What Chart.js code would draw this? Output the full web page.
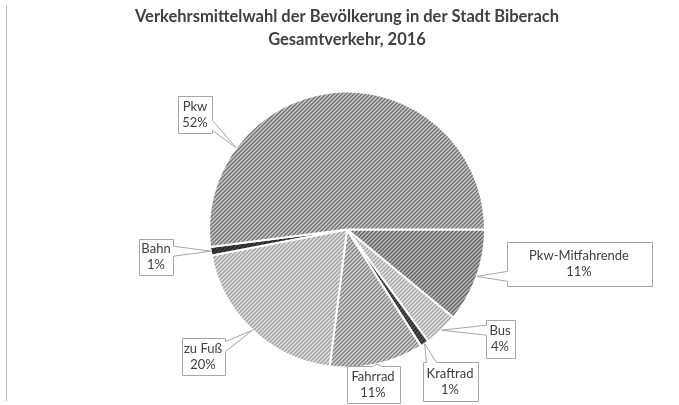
<!DOCTYPE html>
<html>
<head>
<meta charset="utf-8">
<script src="https://cdn.jsdelivr.net/npm/chart.js@4.4.1/dist/chart.umd.min.js"></script>
<style>
    html, body { margin: 0; padding: 0; background: #fff; }
    #frame { position: relative; width: 679px; height: 405px; }
    #frame::before { content: ''; position: absolute; left: 6px; top: 5px; width: 1px; height: 396px; background: #bdbdbd; }
    canvas { display: block; }
</style>
</head>
<body>
<div id="frame"><canvas id="modalSplitChart" width="679" height="405"></canvas></div>
<script>
const titleLines = ['Verkehrsmittelwahl der Bevölkerung in der Stadt Biberach', 'Gesamtverkehr, 2016'];
const modeLabels = ['Pkw-Mitfahrende', 'Bus', 'Kraftrad', 'Fahrrad', 'zu Fuß', 'Bahn', 'Pkw'];
const modeShares = [11, 4, 1, 11, 20, 1, 52];

// hatch colours per slice: [background, stripe]
const hatchColors = [
    ['#b8b8b8', '#626262'],
    ['#e4e4e4', '#a4a4a4'],
    ['#5a5a5a', '#262626'],
    ['#d4d4d4', '#808080'],
    ['#e0e0e0', '#a0a0a0'],
    ['#4a4a4a', '#1e1e1e'],
    ['#c8c8c8', '#707070']
];

// callout boxes: offset of box centre from pie centre, size, where the pointer hits the slice edge
const calloutLayout = [
    { dx: 232, dy: 34, w: 145, h: 44, frac: 0.5 },
    { dx: 153, dy: 109, w: 29, h: 38, frac: 0.5 },
    { dx: 103, dy: 152, w: 55, h: 39, frac: 0.5 },
    { dx: 26, dy: 155, w: 53, h: 37, frac: 0.5 },
    { dx: -144, dy: 127, w: 43, h: 37, frac: 0.5 },
    { dx: -191, dy: 27, w: 34, h: 36, frac: 0.5 },
    { dx: -152, dy: -115, w: 34, h: 37, frac: 0.233 }
];

const canvas = document.getElementById('modalSplitChart');
const ctx = canvas.getContext('2d');

function makeHatch(bg, fg) {
    const size = 4;
    const tile = document.createElement('canvas');
    tile.width = size;
    tile.height = size;
    const t = tile.getContext('2d');
    t.fillStyle = bg;
    t.fillRect(0, 0, size, size);
    t.strokeStyle = fg;
    t.lineWidth = 1.3;
    t.beginPath();
    t.moveTo(-1, size + 1); t.lineTo(size + 1, -1);
    t.moveTo(-1, 1); t.lineTo(1, -1);
    t.moveTo(size - 1, size + 1); t.lineTo(size + 1, size - 1);
    t.stroke();
    return ctx.createPattern(tile, 'repeat');
}

const slicePatterns = hatchColors.map(c => makeHatch(c[0], c[1]));

function calloutPath(c, left, top, w, h, ax, ay) {
    const right = left + w, bottom = top + h;
    const half = 5, pad = 8;
    const ox = ax < left ? left - ax : (ax > right ? ax - right : 0);
    const oy = ay < top ? top - ay : (ay > bottom ? ay - bottom : 0);
    let side;
    if (ox >= oy) {
        side = ax < left ? 'left' : 'right';
    } else {
        side = ay < top ? 'top' : 'bottom';
    }
    const clamp = (v, a, b) => Math.max(a, Math.min(b, v));
    const bx = clamp(ax, left + pad, right - pad);
    const by = clamp(ay, top + pad, bottom - pad);
    c.beginPath();
    c.moveTo(left, top);
    if (side === 'top') {
        c.lineTo(bx - half, top); c.lineTo(ax, ay); c.lineTo(bx + half, top);
    }
    c.lineTo(right, top);
    if (side === 'right') {
        c.lineTo(right, by - half); c.lineTo(ax, ay); c.lineTo(right, by + half);
    }
    c.lineTo(right, bottom);
    if (side === 'bottom') {
        c.lineTo(bx + half, bottom); c.lineTo(ax, ay); c.lineTo(bx - half, bottom);
    }
    c.lineTo(left, bottom);
    if (side === 'left') {
        c.lineTo(left, by + half); c.lineTo(ax, ay); c.lineTo(left, by - half);
    }
    c.closePath();
}

const calloutPlugin = {
    id: 'callouts',
    afterDatasetsDraw(chart) {
        const c = chart.ctx;
        const meta = chart.getDatasetMeta(0);
        const data = chart.data.datasets[0].data;
        meta.data.forEach((arc, i) => {
            const p = arc.getProps(['x', 'y', 'startAngle', 'endAngle', 'outerRadius'], true);
            const lay = calloutLayout[i];
            const ang = p.startAngle + lay.frac * (p.endAngle - p.startAngle);
            const ax = p.x + p.outerRadius * Math.cos(ang);
            const ay = p.y + p.outerRadius * Math.sin(ang);
            const cx = p.x + lay.dx, cy = p.y + lay.dy;
            const left = Math.round(cx - lay.w / 2) + 0.5;
            const top = Math.round(cy - lay.h / 2) + 0.5;
            c.save();
            calloutPath(c, left, top, lay.w, lay.h, ax, ay);
            c.fillStyle = '#ffffff';
            c.fill();
            c.strokeStyle = '#a6a6a6';
            c.lineWidth = 1;
            c.stroke();
            c.fillStyle = '#404040';
            c.font = '13px Lato, sans-serif';
            c.textAlign = 'center';
            c.textBaseline = 'middle';
            c.fillText(chart.data.labels[i], cx, cy - 8);
            c.fillText(data[i] + '%', cx, cy + 8);
            c.restore();
        });
    }
};

new Chart(canvas, {
    type: 'pie',
    data: {
        labels: modeLabels,
        datasets: [{
            data: modeShares,
            backgroundColor: slicePatterns,
            borderColor: '#ffffff',
            borderWidth: 2
        }]
    },
    options: {
        responsive: false,
        animation: false,
        rotation: 90,
        radius: 138,
        layout: { padding: { top: 0, left: 20, right: 5, bottom: 38 } },
        plugins: {
            legend: { display: false },
            tooltip: { enabled: false },
            title: {
                display: true,
                text: titleLines,
                color: '#404040',
                padding: { top: 5, bottom: 41 },
                font: { family: 'Lato, sans-serif', size: 16.5, weight: 'bold', lineHeight: 1.4 }
            }
        }
    },
    plugins: [calloutPlugin]
});
</script>
</body>
</html>
